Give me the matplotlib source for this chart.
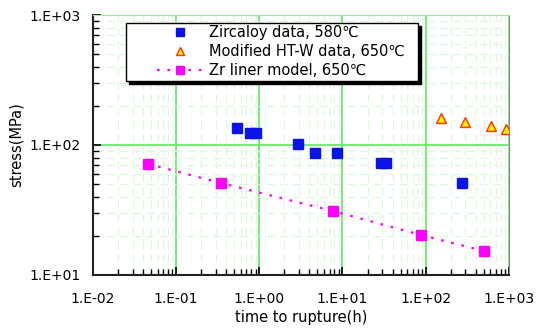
import numpy as np
import matplotlib
matplotlib.use('Agg')
import matplotlib.pyplot as plt
from matplotlib.patches import Rectangle
from matplotlib.ticker import LogLocator, FuncFormatter, NullFormatter

plt.rcParams['font.family'] = ['DejaVu Sans']
plt.rcParams['axes.unicode_minus'] = False

# data
zirc_t = [0.54, 0.78, 0.91, 2.9, 4.7, 8.6, 29, 33, 272]
zirc_s = [135, 124, 124, 102, 87, 87, 73, 73, 51]
htw_t = [152, 296, 608, 920]
htw_s = [161, 150, 140, 133]
zr_t = [0.0458, 0.345, 7.67, 87.5, 500]
zr_s = [71.5, 51, 31, 20.3, 15.3]

fig = plt.figure(figsize=(5.39, 3.34), dpi=100)
ax = fig.add_axes([0.1725, 0.177, 0.7715, 0.778])

ax.set_xscale('log')
ax.set_yscale('log')
ax.set_xlim(1e-2, 1e3)
ax.set_ylim(1e1, 1e3)

ax.xaxis.set_major_locator(LogLocator(base=10, numticks=10))
ax.yaxis.set_major_locator(LogLocator(base=10, numticks=10))
ax.xaxis.set_minor_locator(LogLocator(base=10, subs=np.arange(2, 10), numticks=20))
ax.yaxis.set_minor_locator(LogLocator(base=10, subs=np.arange(2, 10), numticks=20))
fmt = FuncFormatter(lambda v, p: '1.E%+03d' % int(round(np.log10(v))))
ax.xaxis.set_major_formatter(fmt)
ax.yaxis.set_major_formatter(fmt)
ax.xaxis.set_minor_formatter(NullFormatter())
ax.yaxis.set_minor_formatter(NullFormatter())

ax.grid(True, which='minor', color='#daf8da', linestyle=(0, (7, 5)), linewidth=0.8)
ax.grid(True, which='major', color='#5fe85f', linestyle='-', linewidth=1.2)
ax.set_axisbelow(True)

ax.tick_params(which='both', direction='in', colors='black', labelsize=10)
ax.tick_params(which='major', length=6, width=1.2)
ax.tick_params(which='minor', length=4, width=1.0)
ax.tick_params(axis='x', pad=12)
ax.tick_params(axis='y', pad=9)

for s in ['left', 'bottom']:
    ax.spines[s].set_linewidth(1.5)
    ax.spines[s].set_color('#222222')
ax.spines['top'].set_color('#9fe89f')
ax.spines['right'].set_color('#888888')

ax.plot(zirc_t, zirc_s, linestyle='none', marker='s', markersize=6.5,
        color='#0a14e8', markeredgecolor='#0a14e8', label='Zircaloy data, 580\u2103')
ax.plot(htw_t, htw_s, linestyle='none', marker='^', markersize=7,
        markerfacecolor='#ffee00', markeredgecolor='#ff3300', markeredgewidth=1.0,
        label='Modified HT-W data, 650\u2103')
ax.plot(zr_t, zr_s, linestyle=(0, (1.2, 3.5)), linewidth=1.6, color='#ff00ff',
        marker='s', markersize=7, label='Zr liner model, 650\u2103')

# legend frame with a solid black drop shadow
lx, ly, lw, lh = 0.079, 0.746, 0.702, 0.223
ax.add_patch(Rectangle((lx + 0.008, ly - 0.013), lw, lh, transform=ax.transAxes,
                       facecolor='black', edgecolor='black', zorder=5, clip_on=False))
ax.add_patch(Rectangle((lx, ly), lw, lh, transform=ax.transAxes,
                       facecolor='white', edgecolor='black', linewidth=1.0,
                       zorder=6, clip_on=False))

leg = ax.legend(loc='upper left', bbox_to_anchor=(0.154, 0.962), fontsize=10.5,
                frameon=False, borderpad=0, labelspacing=0.27, handlelength=3.1,
                handletextpad=0.45, borderaxespad=0, markerscale=0.85)
leg.set_zorder(7)

ax.set_xlabel('time to rupture(h)', fontsize=10.5, labelpad=3)
ax.set_ylabel('stress(MPa)', fontsize=10.5, labelpad=4)

fig.savefig('out.png', dpi=100)
